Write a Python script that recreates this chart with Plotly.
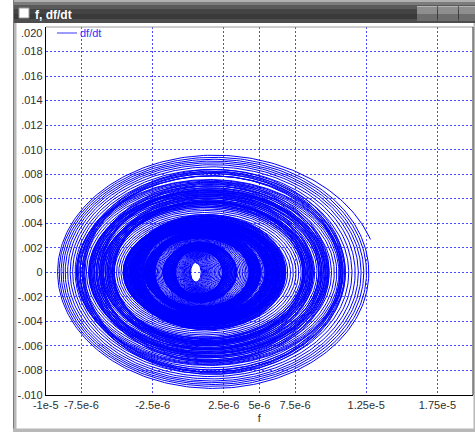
import numpy as np
import plotly.graph_objects as go

# ---------------- data ----------------
# Phase portrait f vs df/dt: envelope values of the spiral, innermost first.
turn_halfwidth_f = [  # x 1e-6
    0.35, 0.50, 0.70, 0.90, 1.10, 1.35, 1.60, 1.85, 2.10, 2.35, 2.60,
    2.50, 2.25, 2.00, 1.80, 1.65,
    1.75, 2.00, 2.30, 2.60, 2.90, 3.20, 3.45, 3.70, 3.90, 4.05,
    4.00, 3.80, 3.60, 3.45, 3.35,
    3.45, 3.65, 3.90, 4.15, 4.40, 4.60, 4.80, 4.95, 5.05,
    5.00, 4.85, 4.65, 4.45, 4.35,
    4.45, 4.70, 4.95, 5.20, 5.40, 5.55, 5.65,
    5.55, 5.35, 5.15, 5.05,
    5.20, 5.50, 5.85, 6.20, 6.55, 6.85, 7.10, 7.30, 7.40,
    7.30, 7.10, 6.85, 6.70, 6.65,
    6.80, 7.10, 7.40, 7.70, 7.95, 8.15, 8.30, 8.40,
    8.30, 8.05, 7.80, 7.65,
    7.80, 8.10, 8.40, 8.70, 8.95, 9.15, 9.30, 9.40,
    9.30, 9.10, 8.95,
    9.10, 9.40, 9.70, 10.00, 10.30, 10.55, 10.80, 11.00,
    13.10]
turn_amp_dfdt = [  # x 1e-3
    0.76, 0.95, 1.13, 1.28, 1.41, 1.54, 1.67, 1.81, 1.98, 2.14, 2.27,
    2.47, 2.31, 2.12, 1.98, 1.89,
    1.76, 1.90, 2.10, 2.27, 2.45, 2.64, 2.80, 2.95, 3.06, 3.15,
    3.48, 3.34, 3.22, 3.13, 3.05,
    2.80, 2.91, 3.06, 3.21, 3.39, 3.52, 3.65, 3.76, 3.84,
    4.24, 4.11, 3.96, 3.82, 3.73,
    3.42, 3.59, 3.76, 3.95, 4.10, 4.22, 4.29,
    4.71, 4.54, 4.37, 4.28,
    3.95, 4.18, 4.45, 4.71, 5.04, 5.30, 5.53, 5.70, 5.78,
    6.36, 6.17, 5.92, 5.79, 5.75,
    5.30, 5.53, 5.79, 6.07, 6.31, 6.51, 6.62, 6.71,
    7.39, 7.17, 6.90, 6.75,
    6.18, 6.46, 6.71, 6.98, 7.22, 7.39, 7.51, 7.59,
    8.38, 8.20, 8.07,
    7.78, 8.04, 8.29, 8.60, 8.86, 9.07, 9.29, 9.55,
    9.85]
turn_center_f = [  # x 1e-6
    0.55, 0.57, 0.59, 0.61, 0.64, 0.67, 0.69, 0.72, 0.75, 0.78, 0.81,
    0.88, 0.85, 0.82, 0.80, 0.78,
    0.66, 0.69, 0.72, 0.76, 0.79, 0.83, 0.86, 0.89, 0.91, 0.93,
    1.10, 1.08, 1.05, 1.04, 1.03,
    0.82, 0.84, 0.87, 0.90, 0.93, 0.95, 0.97, 0.99, 1.00,
    1.27, 1.25, 1.22, 1.20, 1.19,
    0.93, 0.96, 0.99, 1.02, 1.04, 1.06, 1.07,
    1.33, 1.31, 1.28, 1.27,
    1.02, 1.05, 1.09, 1.13, 1.17, 1.21, 1.24, 1.26, 1.27,
    1.53, 1.51, 1.48, 1.46, 1.45,
    1.20, 1.24, 1.27, 1.31, 1.33, 1.36, 1.37, 1.39,
    1.64, 1.62, 1.59, 1.57,
    1.32, 1.35, 1.39, 1.42, 1.45, 1.47, 1.49, 1.50,
    1.76, 1.74, 1.72,
    1.55, 1.59, 1.63, 1.67, 1.70, 1.73, 1.77, 1.80,
    1.90]
# turns of the spiral between consecutive entries (inner part is wound tighter)
step_turns = [3.0] * 56 + [2.0] * 26 + [1.5] * 18 + [1.0]
last_turn_fraction = 0.205   # the trace stops shortly before its last right-hand extreme

x_tickvals = [-1e-5, -7.5e-6, -2.5e-6, 2.5e-6, 5e-6, 7.5e-6, 1.25e-5, 1.75e-5]
x_ticktext = ["-1e-5", "-7.5e-6", "-2.5e-6", "2.5e-6", "5e-6", "7.5e-6", "1.25e-5", "1.75e-5"]
y_tickvals = [-0.010, -0.008, -0.006, -0.004, -0.002, 0.0, 0.002, 0.004, 0.006,
              0.008, 0.010, 0.012, 0.014, 0.016, 0.018]
y_ticktext = ["-.010", "-.008", "-.006", "-.004", "-.002", "0", ".002", ".004", ".006",
              ".008", ".010", ".012", ".014", ".016", ".018"]
y_top_label = ".020"

# ---------------- build the trajectory from the envelope values ----------------
c = np.array(turn_center_f) * 1e-6
w = np.array(turn_halfwidth_f) * 1e-6
a = np.array(turn_amp_dfdt) * 1e-3
idx = np.concatenate([[0.0], np.cumsum(step_turns)])
n_turns = idx[-2] + last_turn_fraction
u = np.linspace(0, n_turns, int(n_turns * 260))
cu = np.interp(u, idx, c)
wu = np.interp(u, idx, w)
au = np.interp(u, idx, a)
phi = 2 * np.pi * u
f_vals = cu + wu * np.sin(phi)
dfdt_vals = au * np.cos(phi)

W, H = 475, 432
def px(x):
    return x / W
def py(y):
    return 1 - y / H

FONT = "Liberation Sans, Arial, sans-serif"
GRID = "#4a4aff"
TXT = "#303030"

fig = go.Figure()
fig.add_trace(go.Scatter(x=f_vals, y=dfdt_vals, mode="lines", name="df/dt",
                         line=dict(color="#0000ff", width=1), showlegend=False,
                         hoverinfo="skip"))

shapes = []
def rect(x0, y0, x1, y1, color, line=None):
    shapes.append(dict(type="rect", xref="paper", yref="paper", layer="above",
                       x0=px(x0), x1=px(x1), y0=py(y1), y1=py(y0),
                       fillcolor=color,
                       line=dict(width=1 if line else 0, color=line or color)))
def hline(x0, x1, y, color, width=1):
    shapes.append(dict(type="line", xref="paper", yref="paper", layer="above",
                       x0=px(x0), x1=px(x1), y0=py(y), y1=py(y),
                       line=dict(color=color, width=width)))
def vline(x, y0, y1, color, width=1):
    shapes.append(dict(type="line", xref="paper", yref="paper", layer="above",
                       x0=px(x), x1=px(x), y0=py(y0), y1=py(y1),
                       line=dict(color=color, width=width)))

# window frame
rect(13, 22, 16.5, 432, "#b8b8b8")
vline(13.5, 22, 432, "#7a7a7a")
rect(13, 428.5, 475, 432, "#b8b8b8")
rect(473.5, 22, 475, 432, "#b8b8b8")
# plot border top / right
hline(46, 473, 27, "#9a9a9a")
vline(473, 27, 395, "#303030")
# title bar (banded gradient)
bands = [(0, 2, "#b0b0b0"), (2, 5, "#7c7c7c"), (5, 9, "#5a5a5a"), (9, 14, "#444444"),
         (14, 19, "#3a3a3a"), (19, 23, "#4e4e4e")]
for y0, y1, col in bands:
    rect(13, y0, 475, y1, col)
vline(13.5, 0, 23, "#7a7a7a")
# window icon
rect(19, 8, 29, 18, "#ffffff", line="#9a9a9a")
# title bar buttons
for bx0, bx1 in [(417, 437), (438, 458), (459, 476)]:
    rect(bx0, 6, bx1, 14, "#8e8e8e")
    rect(bx0, 14, bx1, 21, "#6e6e6e")
    hline(bx0, bx1, 6.5, "#b4b4b4")
# legend sample line
hline(57, 77, 33, "#5a5aff", 1.2)

annotations = [
    dict(text="<b>f, df/dt</b>", x=px(33), y=py(15), xref="paper", yref="paper",
         xanchor="left", yanchor="middle", showarrow=False,
         font=dict(family=FONT, size=12, color="#ffffff")),
    dict(text="df/dt", x=px(78), y=py(33), xref="paper", yref="paper",
         xanchor="left", yanchor="middle", showarrow=False,
         font=dict(family=FONT, size=11, color="#3030ff")),
    dict(text=y_top_label, x=px(44), y=0.020, xref="paper", yref="y",
         xanchor="right", yanchor="middle", yshift=-6, showarrow=False,
         font=dict(family=FONT, size=11, color=TXT)),
]

axis_common = dict(tickmode="array", ticks="", showgrid=True, gridcolor=GRID,
                   gridwidth=1, griddash="2px,2px", zeroline=False,
                   showline=True, linecolor="#000000", linewidth=1,
                   automargin=False, tickfont=dict(family=FONT, size=11, color=TXT))

fig.update_layout(
    template="none",
    width=W, height=H,
    margin=dict(l=0, r=0, t=0, b=0, pad=0, autoexpand=False),
    paper_bgcolor="#ffffff", plot_bgcolor="#ffffff",
    showlegend=False,
    shapes=shapes, annotations=annotations,
    font=dict(family=FONT, size=11, color=TXT),
    xaxis=dict(domain=[px(45.8), px(473)], range=[-1e-5, 2e-5],
               tickvals=x_tickvals, ticktext=x_ticktext,
               title=dict(text="f", font=dict(family=FONT, size=11, color=TXT), standoff=4),
               **axis_common),
    yaxis=dict(domain=[py(395), py(27)], range=[-0.010, 0.020],
               tickvals=y_tickvals, ticktext=y_ticktext, **axis_common),
)

fig.write_html("out.html")
